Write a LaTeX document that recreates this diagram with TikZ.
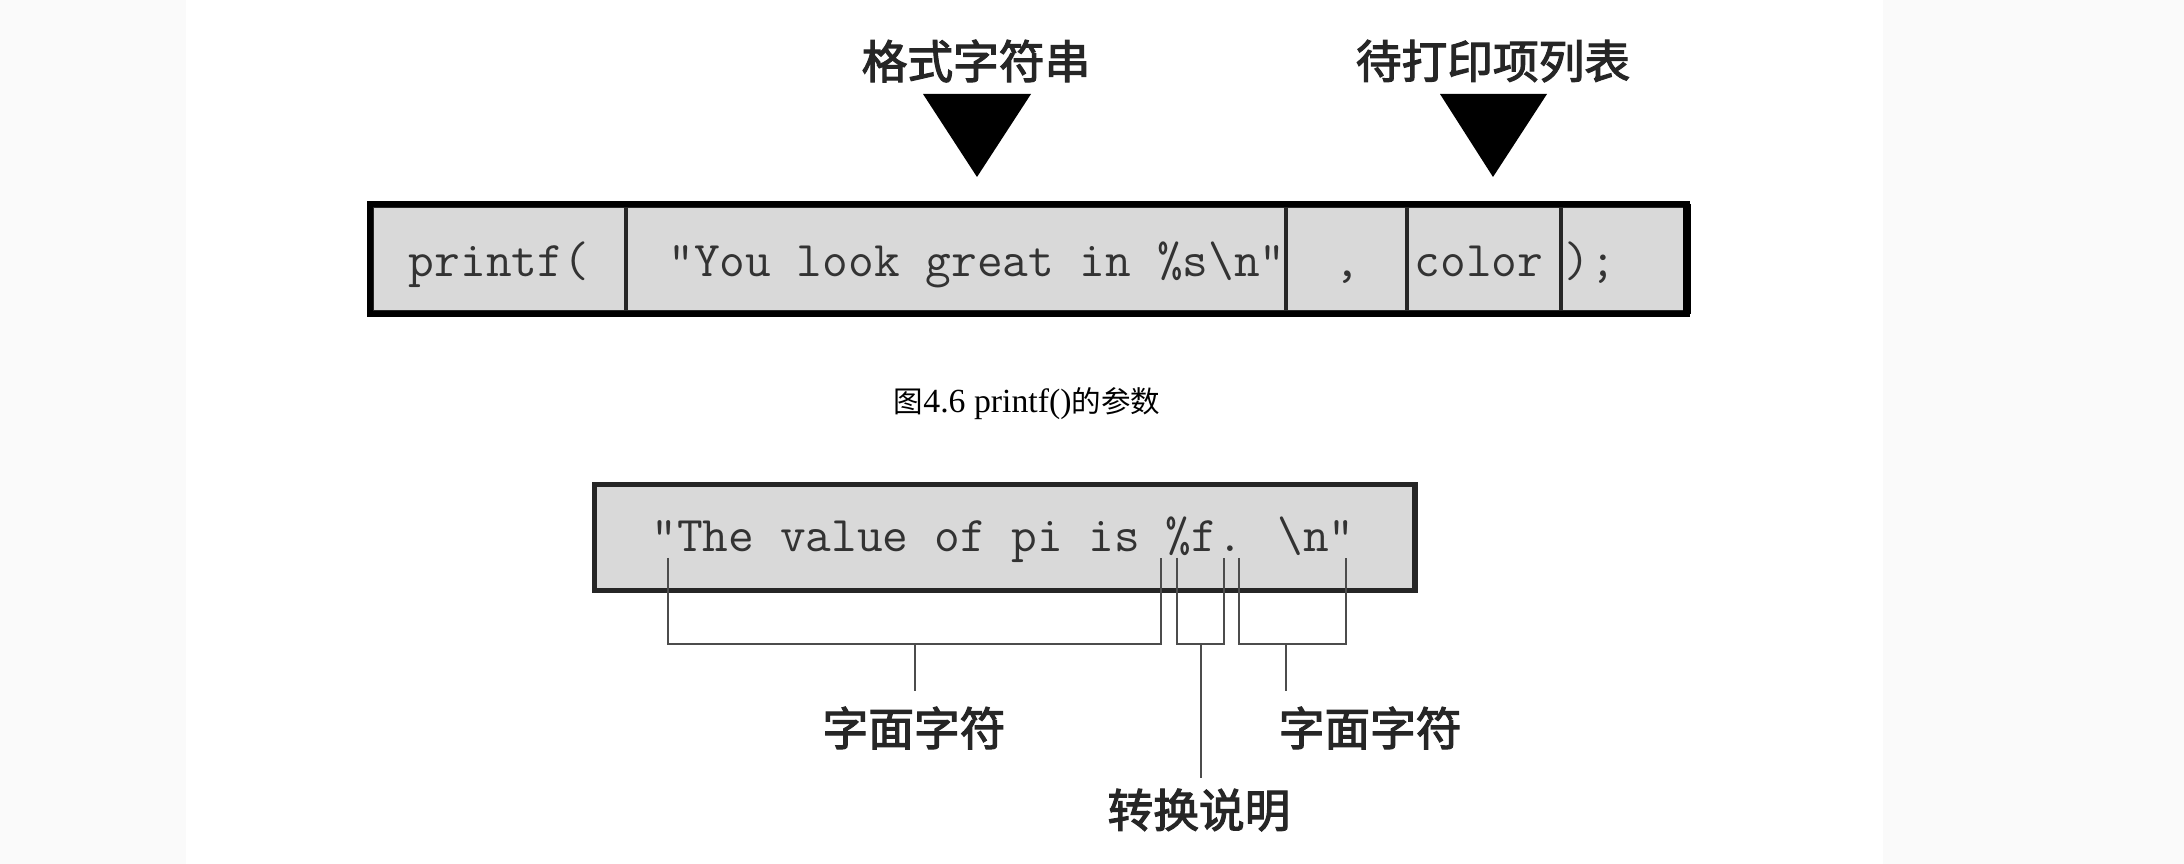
\documentclass[tikz,border=0pt]{standalone}
\usepackage{fontspec}
\newfontfamily\cjk{Noto Sans CJK SC}
\newfontfamily\cjktag{Noto Sans CJK SC}[FakeBold=2.5]
\newfontfamily\capserif{Liberation Serif}

\begin{document}
\begin{tikzpicture}[x=0.01cm, y=-0.01cm]
        \tikzset{cell/.style={draw=black!85, line width=1.1pt, fill=black!15,
                minimum height=1.06cm, inner sep=0pt, anchor=north west}}
        % monospaced code and the bold labels
        \tikzset{code/.style={font=\ttfamily\fontsize{14.2}{16}\selectfont,
                text=black!80, inner sep=0pt, anchor=base}}
        \tikzset{tag/.style={font=\cjktag\fontsize{13}{15}\selectfont,
                text=black!85, inner sep=0pt}}
        \tikzset{brace/.style={draw=black!70, line width=0.7pt}}

        \fill[black!2] (0,0) rectangle (2184,864);
        \fill[white] (186,0) rectangle (1883,864);
        \useasboundingbox (0,0) rectangle (2184,864);

        % the printf call
        \node[cell, minimum width=2.54cm] (c1) at (370,204) {};
        \node[cell, minimum width=6.60cm] (c2) at (624,204) {};
        \node[cell, minimum width=1.21cm] (c3) at (1284,204) {};
        \node[cell, minimum width=1.54cm] (c4) at (1405,204) {};
        \node[cell, minimum width=1.24cm] (c5) at (1559,204) {};
        \draw[line width=1.5pt] (c1.north west) rectangle (c5.south east);
        \draw[line width=2.4pt] (c5.north east) -- (c5.south east);

        \node[code] (t1) at (499,277) {printf(};
        \node[code] (t2) at (977,277) {"You look great in \%s\textbackslash n"};
        \node[code] (t3) at (1347,277) {,};
        \node[code] (t4) at (1479,277) {color};
        \node[code] (t5) at (1590,277) {);};

        \coordinate (p1) at (977,177);
        \coordinate (p2) at (1493,177);
        \fill (923,94) -- (1031,94) -- (p1) -- cycle;
        \fill (1440,94) -- (1547,94) -- (p2) -- cycle;
        \node[tag] (fmt) at (976,61) {格式字符串};
        \node[tag] (lst) at (1493,61) {待打印项列表};

        \node[font=\fontsize{9.6}{11}\selectfont, inner sep=0pt, anchor=base] (cap) at (1027,413)
                {{\cjk\fontsize{8.4}{10}\selectfont 图}{\capserif 4.6 printf()}{\cjk\fontsize{8.4}{10}\selectfont 的参数}};

        % the format string
        \node[cell, line width=1.5pt, minimum width=8.20cm] (box) at (592,482) {};
        \node[code] (t6) at (1003,552) {"The value of pi is \%f. \textbackslash n"};

        \node[tag] (lit1) at (914,728) {字面字符};
        \node[tag] (conv) at (1199,810) {转换说明};
        \node[tag, anchor=west] (lit2) at (1278,728) {字面字符};

        \coordinate (m1) at (915,644);
        \coordinate (m2) at (1201,644);
        \coordinate (m3) at (1286,644);
        \coordinate (e1) at (m1 |- lit1.north);
        \coordinate (e2) at (m2 |- conv.north);
        \coordinate (e3) at (m3 |- lit2.north);

        \draw[brace] (668,558) -- (668,644) -- (1161,644) -- (1161,558);
        \draw[brace] (1177,558) -- (1177,644) -- (1224,644) -- (1224,558);
        \draw[brace] (1239,558) -- (1239,644) -- (1346,644) -- (1346,558);
        \draw[brace] (m1) -- ([yshift=0.15cm]e1);
        \draw[brace] (m2) -- ([yshift=0.1cm]e2);
        \draw[brace] (m3) -- ([yshift=0.15cm]e3);
    \end{tikzpicture}
\end{document}
